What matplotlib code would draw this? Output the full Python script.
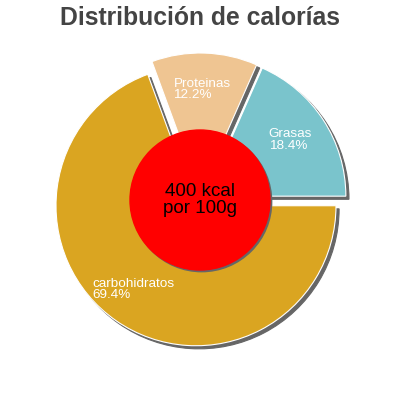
import matplotlib
matplotlib.use("Agg")
import matplotlib.pyplot as plt
from matplotlib.patches import Circle

plt.rcParams['font.family'] = ['Liberation Sans', 'DejaVu Sans']

# data
labels = ["Grasas", "Proteinas", "carbohidratos"]
values = [18.4, 12.2, 69.4]
colors = ["#7ac4cc", "#efc592", "#daa521"]
title = "Distribución de calorías"
center_text = "400 kcal\npor 100g"

# label anchor points (left/center), in axis units
label_pos = [(0.49, 0.43), (-0.19, 0.79), (-0.77, -0.64)]

fig = plt.figure(figsize=(4, 4), dpi=100)
ax = fig.add_axes([0, 0, 1, 1])
lim = 200 / 140

explode = [0.05] * len(values)
shadow = {"ox": 0.016, "oy": -0.016, "facecolor": "#666666",
          "edgecolor": "#666666", "alpha": 1}
wedges, _ = ax.pie(values, colors=colors, explode=explode, startangle=0,
                   counterclock=True, shadow=shadow, radius=1,
                   wedgeprops={"edgecolor": "white", "linewidth": 0.8})
ax.set_xlim(-lim, lim)
ax.set_ylim(-lim, lim)
ax.set_aspect("equal")
ax.axis("off")

for (x, y), name, v in zip(label_pos, labels, values):
    ax.text(x, y, f"{name}\n{v:.1f}%", color="white", fontsize=9.7,
            ha="left", va="center", linespacing=0.95)

# center circle with small shadow
ax.add_patch(Circle((0.012, -0.012), 0.5, color="#666666", zorder=5))
ax.add_patch(Circle((0, 0), 0.5, color="red", zorder=6))
ax.text(0, 0, center_text, ha="center", va="center", fontsize=13.5,
        color="black", linespacing=1.0, zorder=7)

fig.text(0.5, 1 - 18 / 400, title, ha="center", va="center", fontsize=17.8,
         fontweight="bold", color="#444444")

fig.savefig("out.png", dpi=100)
